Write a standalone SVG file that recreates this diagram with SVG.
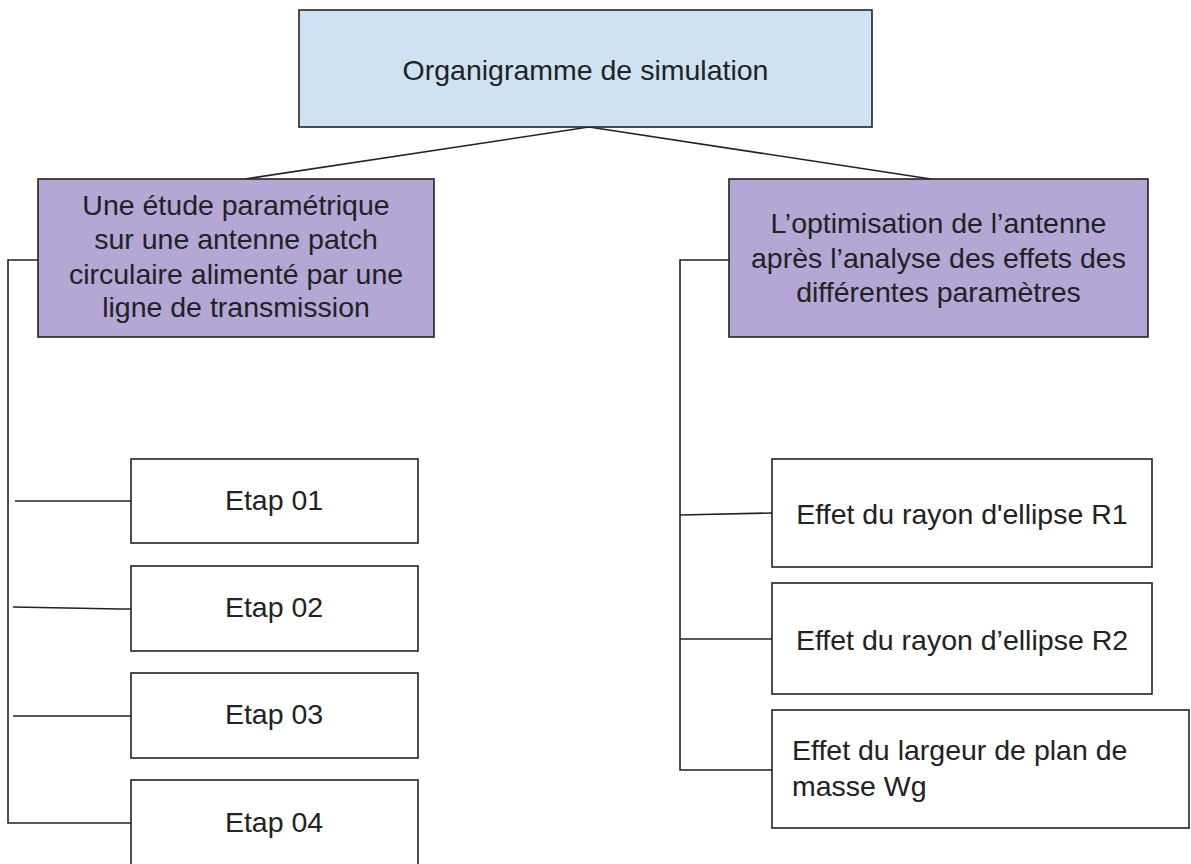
<svg xmlns="http://www.w3.org/2000/svg" width="1191" height="864" viewBox="0 0 1191 864">
<style>
.box{stroke:#222;stroke-width:1.6}
.blue{fill:#cfe2f3}
.purple{fill:#b4a7d6}
.white{fill:#ffffff}
.t{font-family:"Liberation Sans",Arial,sans-serif;font-size:28.5px;fill:#222;text-anchor:middle}
.tl{text-anchor:start}
.c{stroke:#222;stroke-width:1.6;fill:none}
</style>
<rect width="1191" height="864" fill="#ffffff"/>
<g id="connectors">
<line class="c" x1="589" y1="127" x2="245" y2="179"/>
<line class="c" x1="589" y1="127" x2="931" y2="179"/>
<polyline class="c" points="38,260 8,260 8,823 131,823"/>
<line class="c" x1="15" y1="501" x2="131" y2="501"/>
<polyline class="c" points="13,607 120,609 131,609"/>
<line class="c" x1="13" y1="716" x2="131" y2="716"/>
<polyline class="c" points="729,260 680,260 680,770 772,770"/>
<line class="c" x1="680" y1="515" x2="772" y2="513"/>
<line class="c" x1="680" y1="639" x2="772" y2="639"/>
</g>
<g id="root">
<rect class="box blue" x="299" y="10" width="573" height="117"/>
<text class="t" x="585.5" y="80">Organigramme de simulation</text>
</g>
<g id="study">
<rect class="box purple" x="38" y="179" width="396" height="158"/>
<text class="t" x="236" y="215">Une étude paramétrique</text>
<text class="t" x="236" y="249">sur une antenne patch</text>
<text class="t" x="236" y="284">circulaire alimenté par une</text>
<text class="t" x="236" y="317">ligne de transmission</text>
</g>
<g id="optim">
<rect class="box purple" x="729" y="179" width="419" height="158"/>
<text class="t" x="938.5" y="233">L’optimisation de l’antenne</text>
<text class="t" x="938.5" y="267.5">après l’analyse des effets des</text>
<text class="t" x="938.5" y="302">différentes paramètres</text>
</g>
<g id="etap01">
<rect class="box white" x="131" y="459" width="287" height="84"/>
<text class="t" x="274" y="510">Etap 01</text>
</g>
<g id="etap02">
<rect class="box white" x="131" y="566" width="287" height="85"/>
<text class="t" x="274" y="617">Etap 02</text>
</g>
<g id="etap03">
<rect class="box white" x="131" y="673" width="287" height="85"/>
<text class="t" x="274" y="724">Etap 03</text>
</g>
<g id="etap04">
<rect class="box white" x="131" y="780" width="287" height="90"/>
<text class="t" x="274" y="832">Etap 04</text>
</g>
<g id="r1">
<rect class="box white" x="772" y="459" width="380" height="108"/>
<text class="t" x="962" y="524">Effet du rayon d'ellipse R1</text>
</g>
<g id="r2">
<rect class="box white" x="772" y="583" width="380" height="111"/>
<text class="t" x="962" y="650">Effet du rayon d’ellipse R2</text>
</g>
<g id="wg">
<rect class="box white" x="772" y="710" width="417" height="118"/>
<text class="t tl" x="792" y="760">Effet du largeur de plan de</text>
<text class="t tl" x="792" y="796">masse Wg</text>
</g>
</svg>
